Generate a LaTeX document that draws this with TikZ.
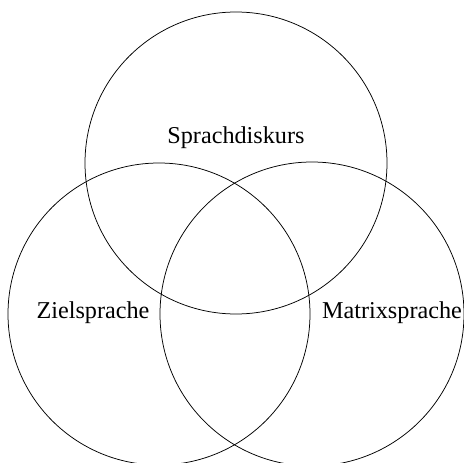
\documentclass[tikz,border=0pt]{standalone}
\usepackage{fontspec}
\setmainfont{Liberation Serif}
\begin{document}
\begin{tikzpicture}[x=1pt,y=-1pt,
  venn/.style={draw=black,line width=0.75pt},
  lbl/.style={anchor=base,inner sep=0pt,font=\fontsize{24.2}{28}\selectfont}]
\useasboundingbox (0,0) rectangle (464,463);
\draw[venn] (236,163) circle[radius=151];
\draw[venn] (159,314) circle[radius=151];
\draw[venn] (312,314) circle[radius=152];
\node[lbl] (sd) at (236,143) {Sprachdiskurs};
\node[lbl] (zs) at (93,318) {Zielsprache};
\node[lbl] (ms) at (392,318) {Matrixsprache};
\end{tikzpicture}
\end{document}
